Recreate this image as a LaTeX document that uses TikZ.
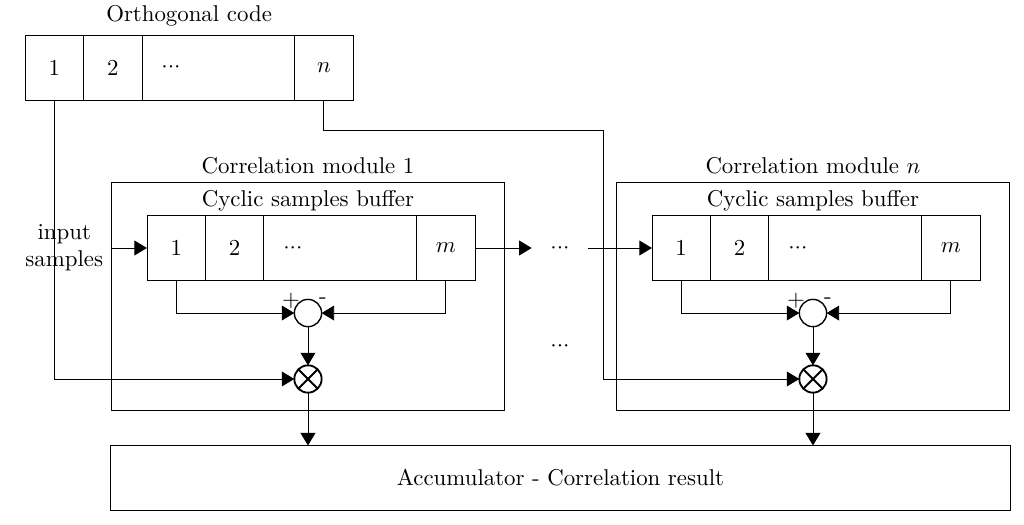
\documentclass[tikz,border=0pt]{standalone}
\usetikzlibrary{positioning,fit,arrows.meta}

\tikzset{
  cell/.style={draw, minimum width=0.9cm, minimum height=1cm, inner sep=0pt, outer sep=0pt},
  widecell/.style={cell, minimum width=2.35cm, text width=1.75cm, align=left},
  module/.style={draw, minimum width=6.06cm, minimum height=3.52cm, outer sep=0pt},
  adder/.style={draw, semithick, circle, minimum size=0.42cm, inner sep=0pt, outer sep=0pt},
  mixer/.style={draw, thick, circle, minimum size=0.42cm, inner sep=0pt, outer sep=0pt},
  arr/.style={-{Triangle[length=5.5pt,width=6.5pt]}}
}

\begin{document}
\begin{tikzpicture}
    \useasboundingbox (0,0) rectangle (15.76,8.065);

    % Orthogonal code
    \node[cell, anchor=west] (c1) at (0.385,7.026) {1};
    \node[cell, right=0pt of c1] (c2) {2};
    \node[widecell, right=0pt of c2] (c3) {${\cdot}{\cdot}{\cdot}$};
    \node[cell, right=0pt of c3] (cn) {$n$};
    \node[fit=(c1)(cn), inner sep=0pt, label=above:Orthogonal code] (code) {};

    % Correlation modules
    \node[module, label=above:Correlation module 1, label={[anchor=north]north:Cyclic samples buffer}] (mod1) at (4.74,3.501) {};
    \node[module, label=above:Correlation module $n$, label={[anchor=north]north:Cyclic samples buffer}] (modn) at (12.512,3.501) {};

    % Buffer 1
    \node[cell, anchor=west] (b1) at (2.262,4.248) {1};
    \node[cell, right=0pt of b1] (b2) {2};
    \node[widecell, right=0pt of b2] (b3) {${\cdot}{\cdot}{\cdot}$};
    \node[cell, right=0pt of b3] (bm) {$m$};

    % Buffer n
    \node[cell, anchor=west] (bn1) at (10.034,4.248) {1};
    \node[cell, right=0pt of bn1] (bn2) {2};
    \node[widecell, right=0pt of bn2] (bn3) {${\cdot}{\cdot}{\cdot}$};
    \node[cell, right=0pt of bn3] (bnm) {$m$};

    % Adders and mixers
    \node[adder] (sum1) at (4.74,3.247) {};
    \node[adder] (sumn) at (12.512,3.247) {};
    \node[mixer] (mix1) at (4.74,2.232) {};
    \node[mixer] (mixn) at (12.512,2.232) {};
    \draw[thick] (mix1.north west) -- (mix1.south east) (mix1.north east) -- (mix1.south west);
    \draw[thick] (mixn.north west) -- (mixn.south east) (mixn.north east) -- (mixn.south west);
    \node[inner sep=0pt] (plus1) at ([shift={(-0.26,0.19)}]sum1) {+};
    \node[inner sep=0pt] (minus1) at ([shift={(0.23,0.185)}]sum1) {-};
    \node[inner sep=0pt] (plusn) at ([shift={(-0.26,0.19)}]sumn) {+};
    \node[inner sep=0pt] (minusn) at ([shift={(0.23,0.185)}]sumn) {-};

    % Dots and accumulator
    \node[inner xsep=8pt] (dots1) at (8.618,4.248) {${\cdot}{\cdot}{\cdot}$};
    \node (dots2) at (8.618,2.729) {${\cdot}{\cdot}{\cdot}$};
    \node[draw, minimum width=13.84cm, minimum height=1cm, outer sep=0pt] (acc) at (8.626,0.708) {Accumulator - Correlation result};

    % Input
    \coordinate (in1) at (mod1.west |- b1.west);
    \node[left, align=center] (input) at (in1) {input\\samples};
    \draw[arr] (input.east) -- (b1.west);

    % Connections
    \draw[arr] (bm.east) -- (dots1.west);
    \draw[arr] (dots1.east) -- (bn1.west);
    \draw[arr] (b1.south) |- (sum1.west);
    \draw[arr] (bm.south) |- (sum1.east);
    \draw[arr] (bn1.south) |- (sumn.west);
    \draw[arr] (bnm.south) |- (sumn.east);
    \draw[arr] (sum1) -- (mix1);
    \draw[arr] (sumn) -- (mixn);
    \draw[arr] (c1.south) |- (mix1.west);
    \coordinate (bend) at (9.28,6.064);
    \draw[arr] (cn.south) |- (bend) |- (mixn.west);
    \draw[arr] (mix1) -- (mix1 |- acc.north);
    \draw[arr] (mixn) -- (mixn |- acc.north);
\end{tikzpicture}
\end{document}
